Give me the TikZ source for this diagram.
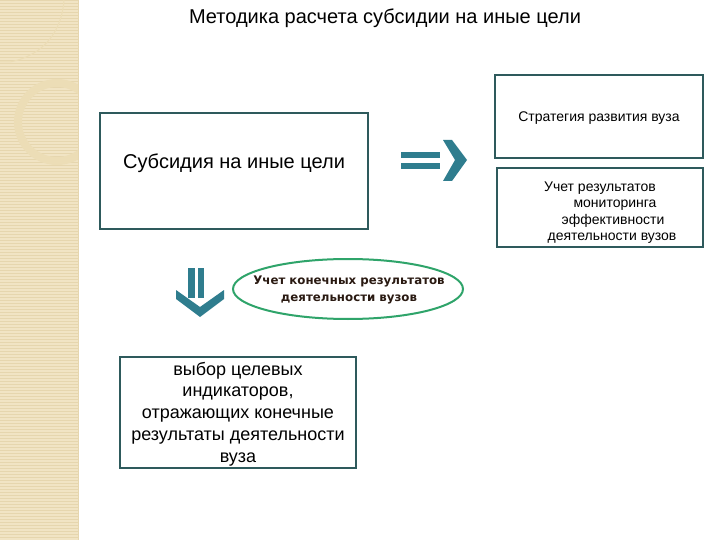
\documentclass[tikz,border=0pt]{standalone}
\usepackage{fontspec}
\setmainfont{Liberation Sans}
\newfontfamily\dejavu{DejaVu Sans}
\usetikzlibrary{shapes.geometric}
\definecolor{strip}{HTML}{F1E4C4}
\definecolor{stripline}{HTML}{E6D6AE}
\definecolor{deco}{HTML}{ECDDB6}
\definecolor{boxborder}{HTML}{2E5A5C}
\definecolor{arrowteal}{HTML}{2F7D8E}
\definecolor{ellgreen}{HTML}{2FA46A}
\definecolor{elltext}{HTML}{2A1A12}
\tikzset{
  box/.style={draw=boxborder, line width=1.6pt, fill=white, inner sep=0pt},
  arr/.style={fill=arrowteal, draw=none},
  small/.style={font=\fontsize{14}{16}\selectfont, inner sep=0pt},
}
\begin{document}
\begin{tikzpicture}[x=1pt,y=-1pt]
\useasboundingbox (0,0) rectangle (720,540);
\fill[white] (0,0) rectangle (720,540);
% left decorative strip
\fill[strip] (0,0) rectangle (78,540);
\foreach \k in {0,3,...,540} {\draw[stripline, line width=0.6pt] (0,\k) -- (78,\k);}
\begin{scope}
\clip (0,0) rectangle (78,540);
\draw[deco, line width=1pt] (0,62) -- (10,62) .. controls (45,55) and (62,30) .. (64,0);
\draw[deco, line width=8pt] (57,122) circle (39);
\end{scope}
\draw[stripline, line width=1pt] (78,0) -- (78,540);
% title
\node (title) at (385,18) {\fontsize{20}{22}\selectfont Методика расчета субсидии на иные цели};
% boxes
\node[box, minimum width=208, minimum height=83] (strat) at (599,116.5) {};
\node[small] at (599,118) {Стратегия развития вуза};
\node[box, minimum width=206, minimum height=79] (monit) at (600,207.5) {};
\node[small] at (600,188) {Учет результатов};
\node[small] at (615,205) {мониторинга};
\node[small] at (613,221) {эффективности};
\node[small] at (612,238) {деятельности вузов};
\node[box, minimum width=268, minimum height=116] (subs) at (234,171) {};
\node at (234,163) {\fontsize{20}{22}\selectfont Субсидия на иные цели};
\node[box, minimum width=236, minimum height=111] (vybor) at (238,412.5) {};
\node[align=center, font=\fontsize{18}{21.8}\selectfont] at (238,414) {выбор целевых\\ индикаторов,\\ отражающих конечные\\ результаты деятельности\\ вуза};
% ellipse
\node[ellipse, draw=ellgreen, line width=2pt, minimum width=230, minimum height=60, inner sep=0pt] (ell) at (348,289) {};
\node[align=center, font=\dejavu\bfseries\fontsize{11.8}{17}\selectfont, text=elltext] at (349,289.5) {Учет конечных результатов\\ деятельности вузов};
% right double arrow
\fill[arr] (401,152) rectangle (440,158);
\fill[arr] (401,163) rectangle (440,169);
\fill[arr] (443,140) -- (452,140) -- (467,160) -- (452,181) -- (443,181) -- (455,160) -- cycle;
% down arrow
\fill[arr] (188,268) rectangle (194.5,298);
\fill[arr] (197.5,268) rectangle (204,298);
\fill[arr] (176,290) -- (176,299) -- (200,317) -- (224,299) -- (224,290) -- (200,307) -- cycle;
\end{tikzpicture}
\end{document}
